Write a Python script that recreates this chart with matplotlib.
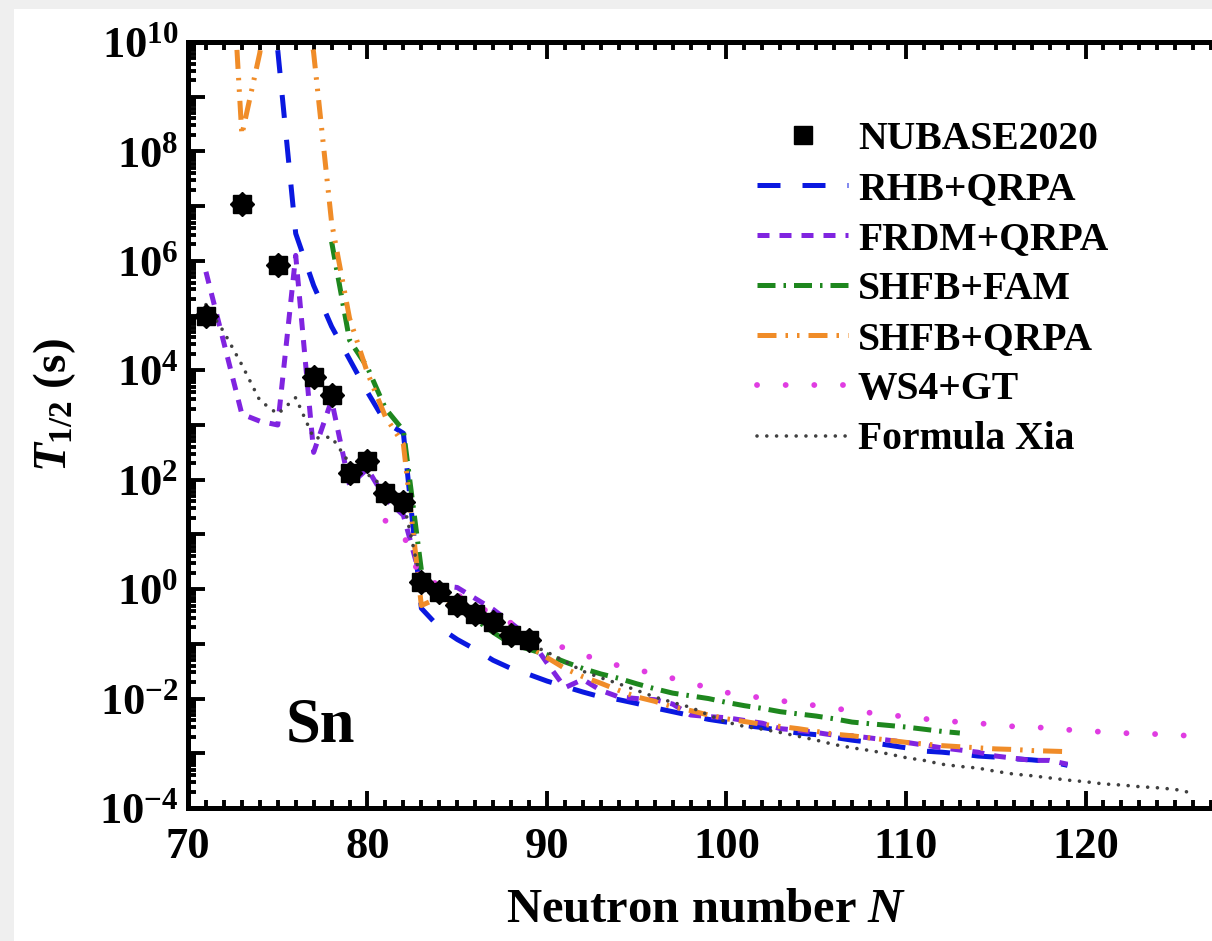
"""
Sn beta-decay half-lives: NUBASE2020 vs model predictions
"""

import numpy as np
import matplotlib
matplotlib.use("Agg")
import matplotlib.pyplot as plt
from matplotlib.ticker import MultipleLocator, LogLocator, FuncFormatter, NullFormatter

plt.rcParams['font.family'] = ['Liberation Serif', 'DejaVu Serif']
plt.rcParams['font.weight'] = 'bold'
plt.rcParams['mathtext.fontset'] = 'custom'
plt.rcParams['mathtext.rm'] = 'Liberation Serif:bold'
plt.rcParams['mathtext.bf'] = 'Liberation Serif:bold'
plt.rcParams['mathtext.it'] = 'Liberation Serif:italic:bold'

# experimental half-lives (s)
n_exp = [71, 73, 75, 77, 78, 79, 80, 81, 82, 83, 84, 85, 86, 87, 88, 89]
t_exp = [9.7e4, 1.1e7, 8.3e5, 7.6e3, 3.5e3, 134, 223, 56, 39.7,
         1.37, 0.89, 0.515, 0.355, 0.249, 0.148, 0.12]

# model curves, log10(T1/2 / s)
n_rhb = list(range(75, 120))
rhb_log = [9.85, 6.5, 5.55, 4.8, 4.2, 3.6, 3.05, 2.85, -0.35, -0.7,
           -0.92, -1.1, -1.3, -1.45, -1.56, -1.68, -1.78, -1.88, -1.97, -2.02,
           -2.09, -2.17, -2.24, -2.31, -2.38, -2.43, -2.49, -2.53, -2.58, -2.63,
           -2.66, -2.71, -2.76, -2.8, -2.85, -2.9, -2.96, -2.98, -3.01, -3.05,
           -3.07, -3.1, -3.12, -3.15, -3.22]

n_frdm = list(range(71, 120))
frdm_log = [5.8, 4.5, 3.2, 3.07, 3.0, 6.1, 2.5, 3.45, 1.9, 2.2,
            1.65, 1.35, 0.15, 0.07, 0.03, -0.17, -0.37, -0.62, -0.88, -1.35,
            -1.8, -1.65, -1.85, -1.97, -2.0, -2.02, -2.1, -2.3, -2.33, -2.35,
            -2.4, -2.45, -2.55, -2.58, -2.62, -2.67, -2.68, -2.72, -2.76, -2.8,
            -2.85, -2.9, -2.94, -2.98, -3.05, -3.09, -3.13, -3.13, -3.2]

n_fam = list(range(78, 114))
fam_log = [6.35, 4.55, 4.05, 3.3, 2.9, 0.35, -0.05, -0.3, -0.55, -0.79,
           -1.0, -1.1, -1.2, -1.33, -1.45, -1.55, -1.63, -1.73, -1.82, -1.9,
           -1.95, -2.0, -2.07, -2.13, -2.18, -2.24, -2.28, -2.32, -2.37, -2.43,
           -2.46, -2.49, -2.52, -2.56, -2.6, -2.63]

n_shfb = list(range(72, 120))
shfb_log = [14, 8.3, 9.8, 12, 12, 9.8, 6.7, 4.95, 3.95, 3.15,
            2.65, -0.3, -0.15, -0.35, -0.5, -0.7, -0.9, -1.05, -1.25, -1.45,
            -1.6, -1.72, -1.85, -1.97, -2.05, -2.15, -2.22, -2.3, -2.37, -2.42,
            -2.47, -2.51, -2.55, -2.6, -2.65, -2.68, -2.72, -2.76, -2.8, -2.83,
            -2.86, -2.88, -2.9, -2.92, -2.93, -2.95, -2.96, -2.97]

n_ws4 = list(range(81, 127))
ws4_log = [1.25, 1.0, 0.15, 0.1, -0.1, -0.3, -0.45, -0.62, -0.78, -0.95,
           -1.08, -1.2, -1.3, -1.4, -1.47, -1.55, -1.63, -1.72, -1.8, -1.89,
           -1.94, -1.99, -2.04, -2.08, -2.13, -2.18, -2.22, -2.26, -2.3, -2.33,
           -2.37, -2.4, -2.43, -2.45, -2.48, -2.51, -2.52, -2.54, -2.57, -2.59,
           -2.61, -2.63, -2.64, -2.65, -2.67, -2.68]

n_xia = list(range(71, 127))
xia_log = [5.2, 4.7, 4.1, 3.45, 3.2, 3.5, 2.76, 2.78, 2.3, 2.1,
           1.85, 1.6, 0.1, -0.1, -0.35, -0.55, -0.7, -0.85, -1.0, -1.15,
           -1.32, -1.5, -1.62, -1.73, -1.85, -1.97, -2.07, -2.16, -2.3, -2.43,
           -2.51, -2.56, -2.62, -2.69, -2.76, -2.84, -2.9, -2.95, -3.01, -3.08,
           -3.13, -3.2, -3.24, -3.27, -3.33, -3.38, -3.41, -3.45, -3.49, -3.52,
           -3.56, -3.58, -3.61, -3.63, -3.66, -3.73]


W, H = 1212, 941
fig = plt.figure(figsize=(W / 100, H / 100), dpi=100)
fig.patch.set_facecolor('#efefef')
fig.add_artist(plt.Rectangle((14 / W, 0), 1, 1 - 9 / H, transform=fig.transFigure,
                             facecolor='white', edgecolor='none', zorder=-10))

# axes run past the right edge of the picture (cropped original)
ax = fig.add_axes([188 / W, 133 / H, 1077 / W, 766 / H])

ax.plot(n_rhb, np.power(10.0, rhb_log), color='#0a18e0', lw=3.6,
        ls=(0, (4.6, 4.4)), label='RHB+QRPA')
ax.plot(n_frdm, np.power(10.0, frdm_log), color='#8024e0', lw=3.6,
        ls=(0, (2.4, 2.0)), label='FRDM+QRPA')
ax.plot(n_fam, np.power(10.0, fam_log), color='#1e871e', lw=3.6,
        ls=(0, (3.6, 1.6, 0.5, 1.6)), label='SHFB+FAM')
ax.plot(n_shfb, np.power(10.0, shfb_log), color='#f08c28', lw=3.6,
        ls=(0, (3.8, 1.8, 0.5, 1.8, 0.5, 1.8)), label='SHFB+QRPA')
ax.plot(n_ws4, np.power(10.0, ws4_log), color='#e03ce2', lw=4.2,
        ls=(0, (0.01, 4.9)), dash_capstyle='round', label='WS4+GT')
ax.plot(n_xia, np.power(10.0, xia_log), color='#404040', lw=2.6,
        ls=(0, (0.01, 2.7)), dash_capstyle='round', label='Formula Xia')

ax.plot(n_exp, t_exp, 'D', color='black', ms=12, zorder=5)
ax.plot(n_exp, t_exp, 's', color='black', ms=13, zorder=6, label='NUBASE2020')

ax.set_yscale('log')
ax.set_xlim(70, 130)
ax.set_ylim(1e-4, 1e10)

ax.xaxis.set_major_locator(MultipleLocator(10))
ax.xaxis.set_minor_locator(MultipleLocator(1))
ax.xaxis.set_major_formatter(FuncFormatter(lambda v, p: '%d' % v if v <= 120 else ''))
ax.yaxis.set_major_locator(LogLocator(base=10, numticks=30))
ax.yaxis.set_minor_locator(LogLocator(base=10, subs=np.arange(2, 10), numticks=200))
ax.yaxis.set_minor_formatter(NullFormatter())


def ylab(v, pos):
    e = int(round(np.log10(v)))
    if e % 2:
        return ''
    return r'$\mathbf{10^{%d}}$' % e


ax.yaxis.set_major_formatter(FuncFormatter(ylab))

for s in ax.spines.values():
    s.set_linewidth(3.6)
ax.tick_params(which='both', direction='in', top=True, right=True, width=2.8)
ax.tick_params(which='major', length=12)
ax.tick_params(which='minor', length=6)
ax.tick_params(axis='x', labelsize=32, pad=14)
ax.tick_params(axis='y', labelsize=32, pad=7)

fig.text(706 / W, 1 - 910 / H, 'Neutron number $N$', fontsize=35,
         ha='center', va='center')
fig.text(55 / W, 1 - 405 / H, r'$T_{1/2}$ (s)', fontsize=34, rotation=90,
         ha='center', va='center')
fig.text(320 / W, 1 - 727 / H, 'Sn', fontsize=45, ha='center', va='center')

handles, labels = ax.get_legend_handles_labels()
order = [labels.index('NUBASE2020')] + [i for i, l in enumerate(labels) if l != 'NUBASE2020']
ax.legend([handles[i] for i in order], [labels[i] for i in order],
          loc='upper left', bbox_to_anchor=(757 / W, 1 - 121 / H),
          bbox_transform=fig.transFigure, frameon=False, fontsize=28.5,
          handlelength=2.3, handletextpad=0.25, labelspacing=0.33,
          borderpad=0, borderaxespad=0)

fig.savefig('out.png', dpi=100, facecolor=fig.get_facecolor())
